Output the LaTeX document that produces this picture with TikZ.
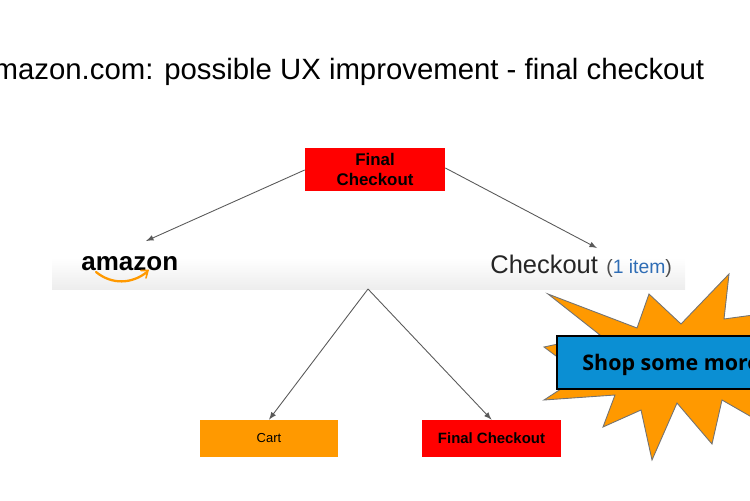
\documentclass[tikz,border=0pt]{standalone}
\usepackage{fontspec}
\setmainfont{Liberation Sans}
\newfontfamily\shopfont{Open Sans}
\definecolor{boxred}{HTML}{FF0000}
\definecolor{boxorange}{HTML}{FF9900}
\definecolor{shopblue}{HTML}{0B8FD3}
\definecolor{linkgray}{HTML}{595959}
\definecolor{itemblue}{HTML}{2F6DB5}
\begin{document}
\begin{tikzpicture}[
    x=0.02cm, y=-0.02cm,
    redbox/.style={fill=boxred, minimum width=2.8cm, align=center, inner sep=0pt},
    cartbox/.style={fill=boxorange, minimum width=2.76cm, minimum height=0.74cm, inner sep=0pt},
    link/.style={draw=linkgray, line width=0.5pt, -latex}
]

\useasboundingbox (0,0) rectangle (750,500);

\shade[top color=white, bottom color=black!7] (52,258) rectangle (685,289);

\node[font=\fontsize{16.7pt}{19pt}\selectfont, anchor=base west, inner sep=0pt] (title) at (-23,80)
{amazon.com: possible UX improvement - final checkout};

\node[redbox, minimum height=0.86cm, font=\fontsize{9.6pt}{10.9pt}\selectfont\bfseries] (final) at (375,169.5)
{Final\\Checkout};

\node[font=\fontsize{14.8pt}{18pt}\selectfont\bfseries, anchor=base west, inner sep=0pt] (logo) at (81,270)
{amazon};
\draw[boxorange, line width=1.3pt, line cap=round] (96,272) .. controls (112,285) and (132,284) .. (147,272);
\draw[boxorange, line width=0.9pt, line cap=round] (141,270.5) -- (148,270.5) -- (146,278);

\node[font=\fontsize{14.5pt}{18pt}\selectfont, text=black!85, anchor=base west, inner sep=0pt] (checkout) at (490,273)
{Checkout};
\node[font=\fontsize{11pt}{13pt}\selectfont, anchor=base west, inner sep=0pt] (items) at (606,273)
{\textcolor{black!70}{(}\textcolor{itemblue}{1 item}\textcolor{black!70}{)}};

\coordinate (logotip) at (146,241);
\coordinate (checkouttip) at (597,248);
\coordinate (fork) at (368,289);

\node[cartbox, font=\fontsize{7.4pt}{9pt}\selectfont] (cart) at (269,438.5) {Cart};
\node[redbox, minimum height=0.74cm, font=\fontsize{8.5pt}{10pt}\selectfont\bfseries] (last) at (491.5,438.5)
{Final Checkout};

\draw[link] (final.west |- 0,170) -- (logotip);
\draw[link] (final.east |- 0,168) -- (checkouttip);
\draw[link] (fork) -- (cart.north);
\draw[link] (fork) -- (last.north);

\draw[fill=boxorange, draw=black!55, line width=0.5pt]
    (548,294) -- (637,328) -- (649,294) -- (681,324) -- (729,274) -- (724,319)
    -- (790,310) -- (790,439) -- (722,400) -- (712,444) -- (677,403) -- (652,460)
    -- (641,410) -- (603,427) -- (615,395) -- (544,400) -- (590,370) -- (556,356)
    -- (544,347) -- (600,335) -- cycle;

\node[draw=black, line width=1pt, fill=shopblue, anchor=north west, minimum width=5cm, minimum height=1.06cm, inner sep=0pt] (shop) at (556,335) {};
\node[font=\shopfont\fontsize{12.2pt}{14pt}\selectfont\bfseries, anchor=base west, inner sep=0pt] (shoptext) at (582,370)
{Shop some more};

\end{tikzpicture}
\end{document}
